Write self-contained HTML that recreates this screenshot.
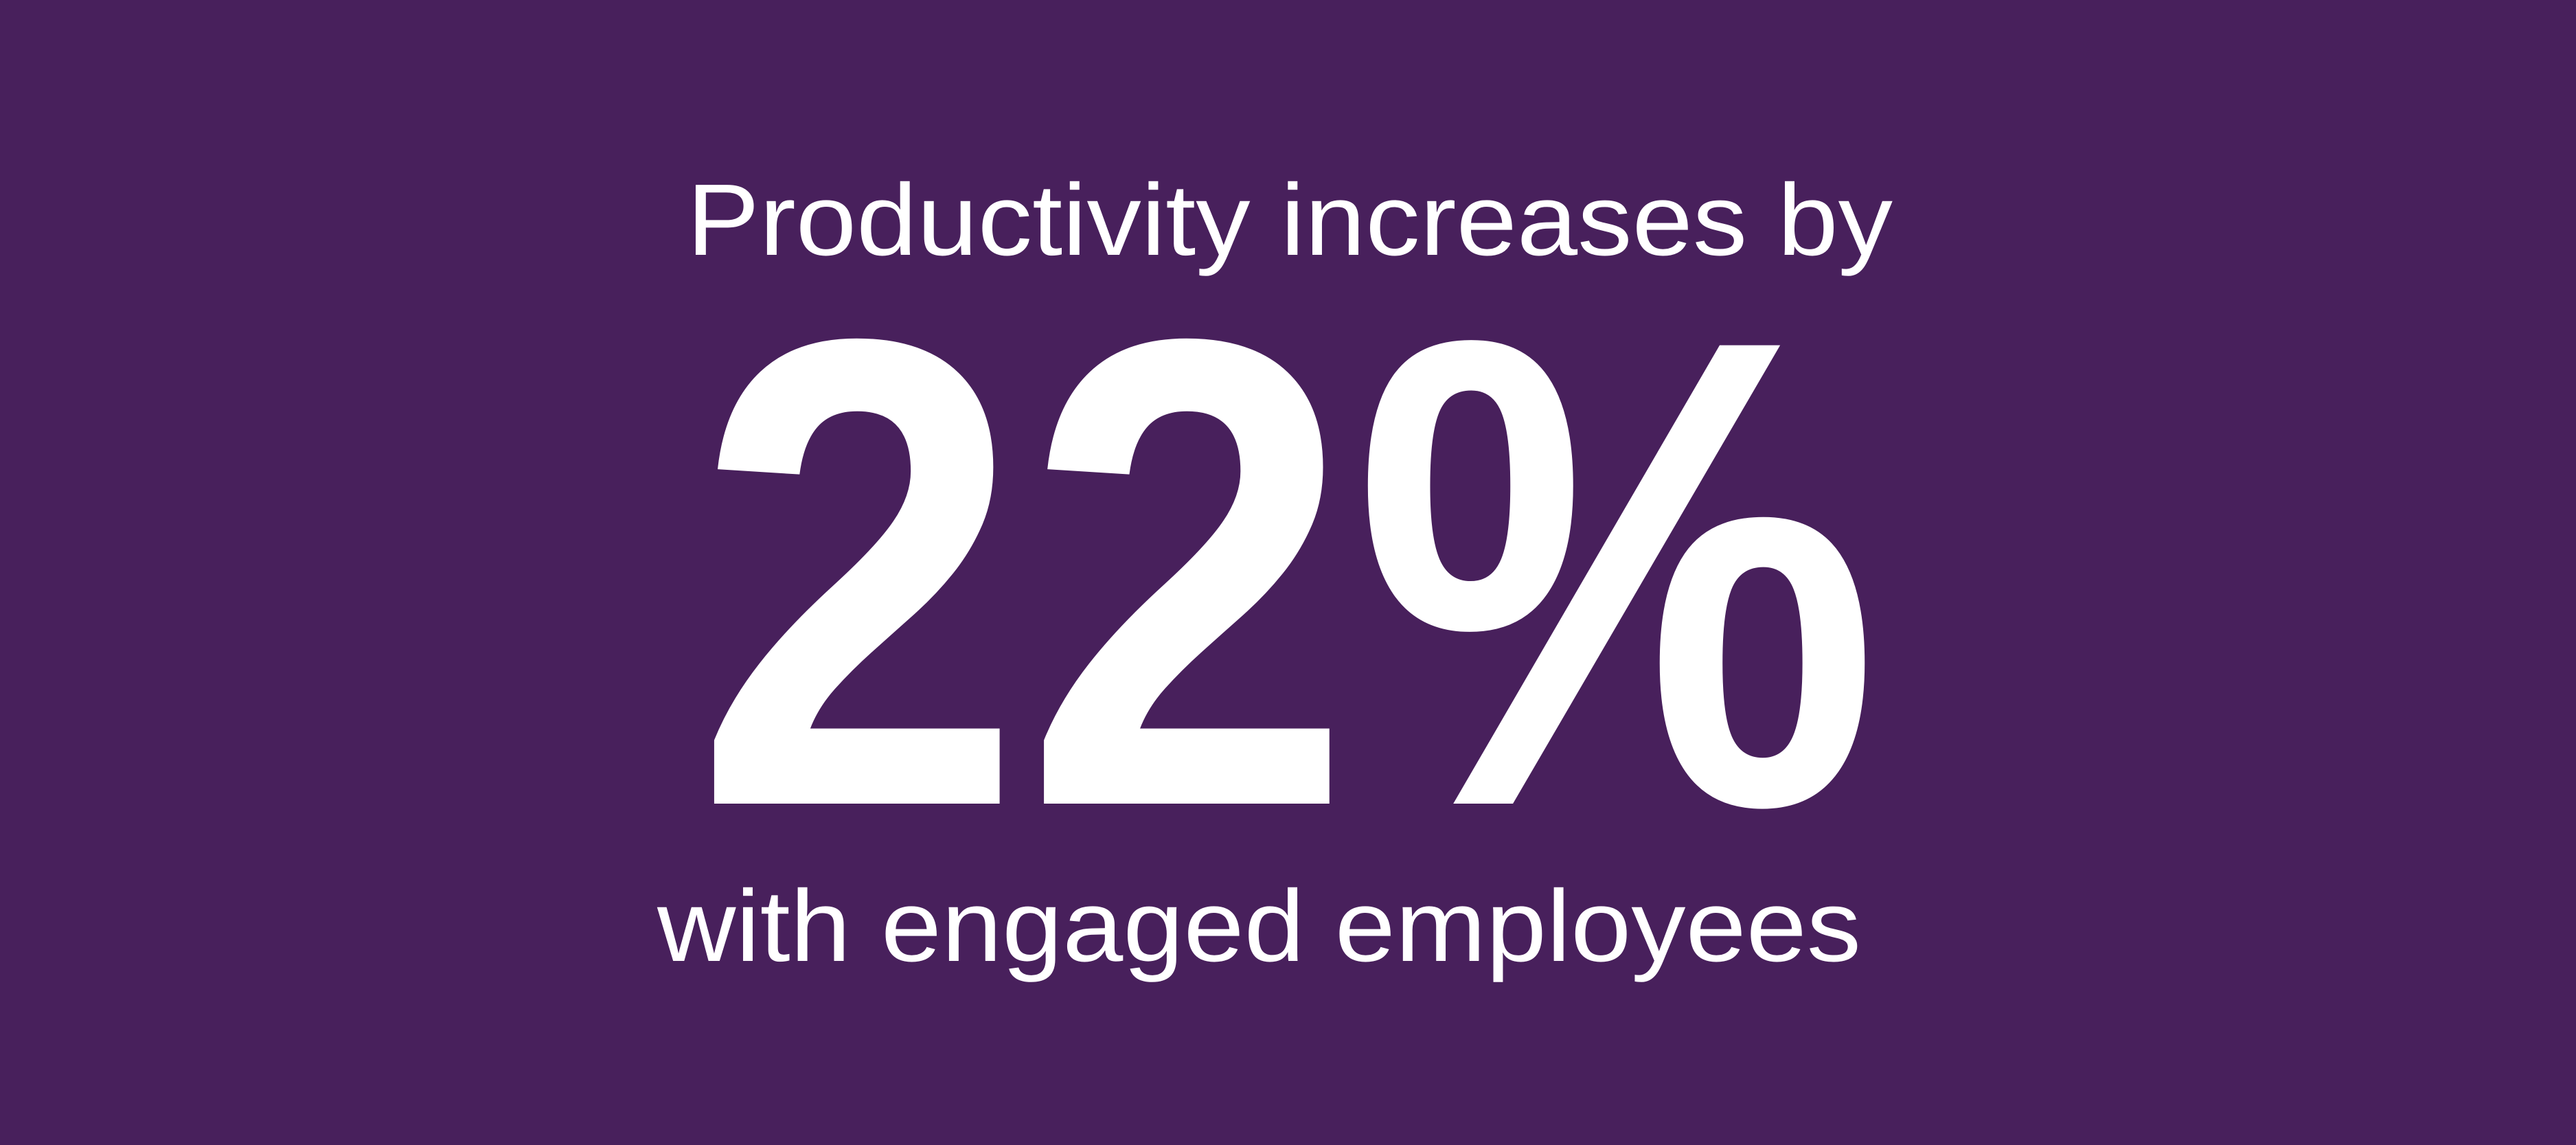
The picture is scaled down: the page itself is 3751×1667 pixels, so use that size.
<!DOCTYPE html>
<html><head><meta charset="utf-8"><style>
html,body{margin:0;padding:0;background:#48205c;}
svg{display:block}
</style></head><body>
<svg width="3751" height="1667" viewBox="0 0 3751 1667" xmlns="http://www.w3.org/2000/svg">
<rect width="3751" height="1667" fill="#48205c"/>
<g fill="#ffffff" font-family="Liberation Sans, sans-serif">
<text x="1000" y="371" font-size="148" textLength="1756" lengthAdjust="spacingAndGlyphs">Productivity increases by</text>
<text x="1010" y="1170" font-size="970" font-weight="bold" textLength="1728" lengthAdjust="spacingAndGlyphs">22%</text>
<text x="957" y="1399" font-size="148" textLength="1753" lengthAdjust="spacingAndGlyphs">with engaged employees</text>
</g>
</svg>
</body></html>
